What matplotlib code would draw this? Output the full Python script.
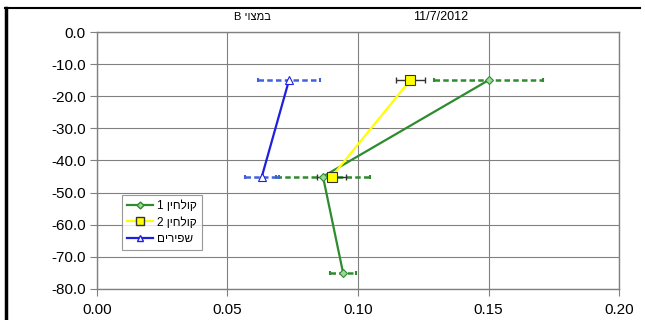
import numpy as np
import matplotlib.pyplot as plt
from matplotlib.lines import Line2D

plt.rcParams['font.family'] = ['Liberation Sans', 'DejaVu Sans']

# depth (cm)
depth = [-15, -45, -75]
# kolchin 1 (green)
k1_x = [0.150, 0.0866, 0.0943]
k1_err = [0.021, 0.018, 0.005]
# kolchin 2 (yellow)
k2_depth = [-15, -45]
k2_x = [0.120, 0.090]
k2_err = [0.0055, 0.0055]
# shpirim (blue)
sh_depth = [-15, -45]
sh_x = [0.0736, 0.0632]
sh_err = [0.012, 0.0065]

# hebrew written in visual order (matplotlib has no bidi)
labels = ['1 ' + 'קולחין'[::-1], '2 ' + 'קולחין'[::-1], 'שפירים'[::-1]]
title_left = 'B ' + 'במצוי'[::-1]
title_right = '11/7/2012'

fig = plt.figure(figsize=(6.45, 3.2), dpi=100)
ax = fig.add_axes([0.150, 0.097, 0.810, 0.803])

green = '#2E8B2E'
yellow = '#FFFF00'
blue = '#1F1FE0'

# error bars
e1 = ax.errorbar(k1_x, depth, xerr=k1_err, fmt='none', ecolor=green, elinewidth=1.8,
                 capsize=1.5, capthick=1.5, zorder=3)
e1[2][0].set_linestyle((0, (2.2, 1.3)))
e3 = ax.errorbar(sh_x, sh_depth, xerr=sh_err, fmt='none', ecolor='#4060E0', elinewidth=1.8,
                 capsize=1.5, capthick=1.5, zorder=3)
e3[2][0].set_linestyle((0, (2.2, 1.3)))
ax.errorbar(k2_x, k2_depth, xerr=k2_err, fmt='none', ecolor='#333333', elinewidth=1.0,
            capsize=2.5, zorder=4)

# series
ax.plot(k1_x, depth, color=green, lw=1.6, marker='D', ms=4.5, mfc='#9AD89A',
        mec=green, mew=0.8, zorder=5)
ax.plot(k2_x, k2_depth, color=yellow, lw=1.6, marker='s', ms=7, mfc=yellow,
        mec='#333333', mew=0.8, zorder=6)
ax.plot(sh_x, sh_depth, color=blue, lw=1.6, marker='^', ms=6, mfc='white',
        mec=blue, mew=0.8, zorder=5)

ax.set_xlim(0, 0.20)
ax.set_ylim(-80, 0)
ax.set_xticks(np.arange(0, 0.201, 0.05))
ax.set_yticks(np.arange(-80, 0.1, 10))
ax.set_xticklabels([f'{v:.2f}' for v in np.arange(0, 0.201, 0.05)])
ax.set_yticklabels([f'{v:.1f}' for v in np.arange(-80, 0.1, 10)])
ax.tick_params(labelsize=11, length=5, color='#808080', width=0.8, pad=3)
ax.tick_params(axis='x', pad=5)
ax.grid(True, color='#808080', lw=0.8)
ax.set_axisbelow(True)
for s in ax.spines.values():
    s.set_color('#808080')
    s.set_linewidth(1.0)

handles = [
    Line2D([], [], color=green, lw=1.6, marker='D', ms=3.5, mfc='#9AD89A', mec=green),
    Line2D([], [], color=yellow, lw=1.6, marker='s', ms=6, mfc=yellow, mec='#333333'),
    Line2D([], [], color=blue, lw=1.6, marker='^', ms=5, mfc='white', mec=blue),
]
leg = ax.legend(handles, labels, loc='upper left', bbox_to_anchor=(0.048, 0.365),
                fontsize=8.5, frameon=True, fancybox=False, handlelength=2.2,
                handletextpad=0.4, borderpad=0.4, labelspacing=0.4, borderaxespad=0)
leg.get_frame().set_edgecolor('#808080')
leg.get_frame().set_linewidth(0.8)

fig.text(252 / 645, 1 - 17 / 320, title_left, fontsize=8, ha='center', va='center')
fig.text(441 / 645, 1 - 17 / 320, title_right, fontsize=9, ha='center', va='center')

# black frame on left and top
fig.add_artist(Line2D([6 / 645, 6 / 645], [0, 1 - 8 / 320], color='black', lw=2.5,
                      transform=fig.transFigure))
fig.add_artist(Line2D([5 / 645, 640 / 645], [1 - 8 / 320, 1 - 8 / 320], color='black', lw=1.5,
                      transform=fig.transFigure))

fig.savefig('out.png', dpi=100)
